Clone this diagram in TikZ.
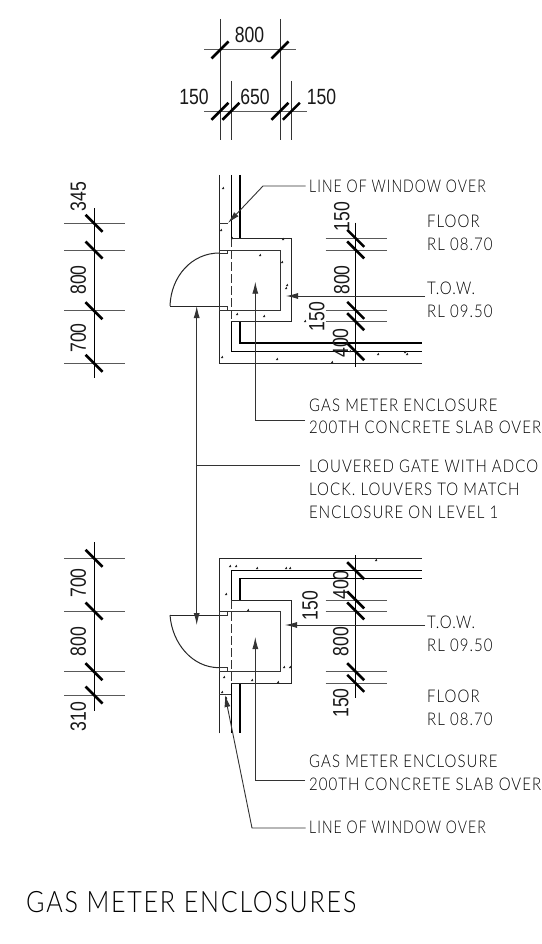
\documentclass[tikz,border=0pt]{standalone}
\usepackage{fontspec}
\usetikzlibrary{arrows.meta}
\newfontfamily\dimfont[FakeStretch=0.8]{Liberation Sans}
\newfontfamily\labfont[FakeStretch=0.857,LetterSpace=6]{Lato Light}
\newfontfamily\winfont[FakeStretch=0.8,LetterSpace=6]{Lato Light}
\newfontfamily\titlefont[FakeStretch=0.85,LetterSpace=6]{Lato Light}
\tikzset{
 x=1pt,y=-1pt,
 wall/.style={line width=1pt,black!85},
 heavy/.style={line width=1.5pt,black},
 thin line/.style={line width=0.9pt,black!80},
 ext/.style={line width=1pt,black!65},
 dimline/.style={line width=1pt,black},
 slash/.style={line width=2.6pt,black},
 leader/.style={line width=0.9pt,black!80},
 head/.style={-{Latex[length=12pt,width=6pt]}},
 dimtext/.style={inner sep=0pt,font=\dimfont\fontsize{22}{22}\selectfont,text=black!90},
 vdimtext/.style={dimtext,rotate=90},
 lab/.style={inner sep=0pt,anchor=west,font=\labfont\fontsize{17.5}{17.5}\selectfont,text=black},
 winlab/.style={lab,font=\winfont\fontsize{17.5}{17.5}\selectfont},
 titletext/.style={inner sep=0pt,anchor=west,font=\titlefont\fontsize{29.5}{29.5}\selectfont,text=black},
}
\newcommand{\backtick}[2]{\draw[slash] (#1-8.5,#2-8.5) -- (#1+8.5,#2+8.5);}
\newcommand{\foretick}[2]{\draw[slash] (#1-8.5,#2+8.5) -- (#1+8.5,#2-8.5);}
\newcommand{\aggr}[2]{\fill[black!85] (#1-1.2,#2+1) -- (#1+1.2,#2+1) -- (#1+0.6,#2-1.3) -- cycle;}
\begin{document}
\begin{tikzpicture}
\useasboundingbox (0,0) rectangle (541,944);
\fill[white] (0,0) rectangle (541,944);

% --- top dimensions
\draw[thin line] (220,19) -- (220,140) (280,19) -- (280,140) (231,81) -- (231,140) (291.3,81) -- (291.3,140);
\draw[ext] (204,50) -- (295.7,50) (204,111.3) -- (306.7,111.3);
\foretick{220}{50}\foretick{280}{50}
\foretick{220}{111.3}\foretick{231}{111.3}\foretick{280}{111.3}\foretick{291.3}{111.3}
\node[dimtext] (d800) at (249.5,35) {800};
\node[dimtext] (d150a) at (194,97) {150};
\node[dimtext] (d650) at (255,97) {650};
\node[dimtext] (d150b) at (321.5,97) {150};

% --- upper enclosure
\draw[wall] (219.3,175) -- (219.3,363) -- (422,363);
\draw[heavy] (231.3,175) -- (231.3,238.3) (240,175) -- (240,238.3);
\draw[heavy] (231.3,321.7) -- (231.3,351.7) -- (422,351.7);
\draw[heavy] (240,321.7) -- (240,343) -- (422,343);
\draw[wall] (231.3,238.3) -- (291.3,238.3) -- (291.3,321.7) -- (231.3,321.7);
\draw[thin line] (227.5,250) -- (280.3,250) -- (280.3,310.3) -- (219.3,310.3);
\draw[thin line] (219.3,250) rectangle (227.5,253.5) (219.3,306) rectangle (227.5,310.3);
\draw[thin line,dash pattern=on 9pt off 3pt] (231.3,238.3) -- (231.3,321.7);
\draw[thin line] (219.3,223) -- (228,223);
\draw[wall] (170,306) -- (219.3,306);
\draw[wall] (170,306) .. controls (171,276) and (192,253) .. (219.3,253);
\foreach \p/\q in {223/188,221/230,260/255,283/239,282/262,286/288,287/285,237/314,264/316,305/321,222/357,277/359,332/362,350/351,378/354,405/352,407/354,232/238}{\aggr{\p}{\q}}

% --- lower enclosure
\draw[wall] (219.3,733.3) -- (219.3,558.3) -- (422,558.3);
\draw[heavy] (231.3,600) -- (231.3,570.7) -- (422,570.7);
\draw[heavy] (240,600) -- (240,578.3) -- (422,578.3);
\draw[heavy] (231.3,683.3) -- (231.3,733.3) (240,683.3) -- (240,733.3);
\draw[wall] (231.3,600) -- (291.3,600) -- (291.3,683.3) -- (231.3,683.3);
\draw[thin line] (227.5,611) -- (280.3,611) -- (280.3,671.7) -- (219.3,671.7);
\draw[thin line] (219.3,611) rectangle (227.5,615.5) (219.3,667.7) rectangle (227.5,671.7);
\draw[thin line,dash pattern=on 9pt off 3pt] (231.3,600) -- (231.3,683.3);
\draw[thin line] (219.3,694) -- (231,694);
\draw[wall] (170,615) -- (219.3,615);
\draw[wall] (170,615) .. controls (172,643) and (192,667.7) .. (219.3,667.7);
\foreach \p/\q in {230/566,236/566,257/568,286/568,290/568,376/560,248/610,226/594,284/667,290/667,224/677,252/680,278/682,222/692,226/698}{\aggr{\p}{\q}}

% --- right dimensions, upper
\draw[dimline] (355.7,222.7) -- (355.7,367);
\draw[ext] (325.7,238.3) -- (386.7,238.3) (325.7,250) -- (386.7,250) (325.7,310.3) -- (386.7,310.3) (325.7,321.7) -- (386.7,321.7);
\foreach \q in {238.3,250,310.3,321.7,351.7}{\backtick{355.7}{\q}}
\node[vdimtext] (r150a) at (341.7,216.5) {150};
\node[vdimtext] (r800a) at (341.7,280) {800};
\node[vdimtext] (r150b) at (316.7,316.5) {150};
\node[vdimtext] (r400a) at (340.5,343) {400};

% --- right dimensions, lower
\draw[dimline] (355.7,555) -- (355.7,698);
\draw[ext] (325.7,600) -- (386.7,600) (325.7,611) -- (386.7,611) (325.7,671.7) -- (386.7,671.7) (325.7,683.3) -- (386.7,683.3);
\foreach \q in {570.7,600,611,671.7,683.3}{\backtick{355.7}{\q}}
\node[vdimtext] (r400b) at (340.7,585) {400};
\node[vdimtext] (r150c) at (310,605.5) {150};
\node[vdimtext] (r800b) at (340.7,641.7) {800};
\node[vdimtext] (r150d) at (340.7,703) {150};

% --- left dimensions
\draw[dimline] (94,208) -- (94,378);
\draw[ext] (64,223.3) -- (124.7,223.3) (64,250) -- (124.7,250) (64,310.7) -- (124.7,310.7) (64,363.3) -- (124.7,363.3);
\foreach \q in {223.3,250,310.7,363.3}{\backtick{94}{\q}}
\node[vdimtext] (l345) at (78.3,196.7) {345};
\node[vdimtext] (l800a) at (78.3,280) {800};
\node[vdimtext] (l700a) at (78.3,338) {700};
\draw[dimline] (94,542) -- (94,710.7);
\draw[ext] (64,558.3) -- (124.7,558.3) (64,611) -- (124.7,611) (64,671.7) -- (124.7,671.7) (64,695) -- (124.7,695);
\foreach \q in {558.3,611,671.7,695}{\backtick{94}{\q}}
\node[vdimtext] (l700b) at (78.3,583) {700};
\node[vdimtext] (l800b) at (78.3,641.7) {800};
\node[vdimtext] (l310) at (78.3,716.7) {310};

% --- labels
\node[winlab] (win1) at (309,186) {LINE OF WINDOW OVER};
\node[lab] (fl1) at (427,221) {FLOOR};
\node[lab] (rl1) at (427,244) {RL 08.70};
\node[lab] (tow1) at (427,288) {T.O.W.};
\node[lab] (rl2) at (427,311) {RL 09.50};
\node[lab] (gas1) at (309,405) {GAS METER ENCLOSURE};
\node[lab] (slab1) at (309,427) {200TH CONCRETE SLAB OVER};
\node[lab] (louv1) at (309,466) {LOUVERED GATE WITH ADCO};
\node[lab] (louv2) at (309,489) {LOCK. LOUVERS TO MATCH};
\node[lab] (louv3) at (309,512) {ENCLOSURE ON LEVEL 1};
\node[lab] (tow2) at (427,622) {T.O.W.};
\node[lab] (rl3) at (427,645) {RL 09.50};
\node[lab] (fl2) at (427,696) {FLOOR};
\node[lab] (rl4) at (427,719) {RL 08.70};
\node[lab] (gas2) at (309,761) {GAS METER ENCLOSURE};
\node[lab] (slab2) at (309,784) {200TH CONCRETE SLAB OVER};
\node[winlab] (win2) at (309,827) {LINE OF WINDOW OVER};
\node[titletext] (title) at (26,902) {GAS METER ENCLOSURES};

% --- leaders
\coordinate (winA) at (228,223);
\coordinate (winB) at (225,695);
\coordinate (towA) at (286,296);
\coordinate (towB) at (285,625);
\coordinate (gasA) at (255.3,281.7);
\coordinate (gasB) at (255.3,637);
\coordinate (doorA) at (196.7,306);
\coordinate (doorB) at (196.7,625);
\coordinate (fork) at (196.7,465);
\coordinate (winEndA) at (305.5,186);
\coordinate (winEndB) at (305.5,828);
\coordinate (gasEndA) at (305,420);
\coordinate (gasEndB) at (305,780);
\draw[leader,head] (winEndA) -- (263,186) -- (winA);
\draw[leader,head] (winEndB) -- (252,828) -- (winB);
\draw[leader,head] (425,296) -- (towA);
\draw[leader,head] (425,625) -- (towB);
\draw[leader,head] (gasEndA) -- (255.3,420) -- (gasA);
\draw[leader,head] (gasEndB) -- (255.3,780) -- (gasB);
\draw[leader,{Latex[length=12pt,width=6pt]}-{Latex[length=12pt,width=6pt]}] (doorA) -- (doorB);
\draw[leader] (fork) -- (300,465);
\end{tikzpicture}
\end{document}
